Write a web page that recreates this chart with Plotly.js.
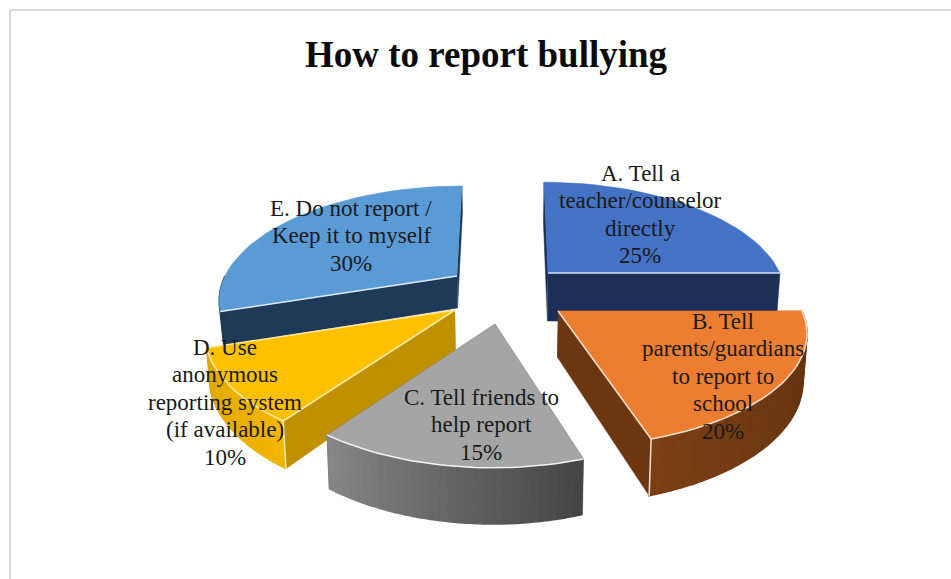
<!DOCTYPE html>
<html>
<head>
<meta charset="utf-8">
<script src="https://cdn.plot.ly/plotly-3.0.1.min.js"></script>
<style>html,body{margin:0;padding:0;background:#fff}#chart{width:951px;height:579px}</style>
</head>
<body>
<div id="chart"></div>
<script>
// Chart data
var titleText = "How to report bullying";
var categories = [
  "A. Tell a<br>teacher/counselor<br>directly",
  "B. Tell<br>parents/guardians<br>to report to<br>school",
  "C. Tell friends to<br>help report",
  "D. Use<br>anonymous<br>reporting system<br>(if available)",
  "E. Do not report /<br>Keep it to myself"
];
var values = [25, 20, 15, 10, 30];

// Colours
var topColors    = ["#4472C4", "#ED7D31", "#A5A5A5", "#FFC000", "#5B9BD5"];
var edgeColors   = ["#D6E0F2", "#FBE0CE", "#F2F2F2", "#FFE9A6", "#DCEBF7"];
var radialColors = ["#1B2F57", "#6B3610", "#6E6E6E", "#BF9000", "#1F3A58"];
var arcStart     = ["#1B2F57", "#5E2F0E", "#454545", "#F2B500", "#1F3A58"];
var arcEnd       = ["#1B2F57", "#7A3F14", "#868686", "#DDA800", "#1F3A58"];

// Projection of each exploded slice: centre, radii, skew, wall height
var cxs   = [548, 558, 495, 455, 457];
var cys   = [273, 311, 324, 310, 276];
var rxs   = [232, 244, 237, 245, 232];
var rys   = [109, 109, 115, 115, 108];
var skews = [-4, 0, 2, 0, 5];
var walls = [48, 46, 45, 40, 32];
var persp = 0.2, converge = 0.013, midX = 500;

// Which top-face edges catch the light
var lightFirst = [false, false, false, true, true];
var lightLast  = [true, true, false, true, false];
var lightArc   = [false, true, true, true, false];

// Label layout: centre of the first line, line step
var labelX = [640, 723, 481, 225, 351];
var labelY = [173, 321, 397, 347, 208];
var labelStep = 27.6;

var total = values.reduce(function (a, b) { return a + b; }, 0);

function project(i, ang) {
  var u = Math.sin(ang), v = Math.cos(ang), s = 1 / (1 + persp * v);
  return {x: cxs[i] + rxs[i] * u * s + skews[i] * v, y: cys[i] - rys[i] * v * s, s: s};
}
function drop(i, p, s) {
  return {x: p.x + converge * (midX - p.x), y: p.y + walls[i] * s};
}
function hex(c) { return [1, 3, 5].map(function (k) { return parseInt(c.substr(k, 2), 16); }); }
function mix(a, b, t) {
  var A = hex(a), B = hex(b);
  return "rgb(" + A.map(function (x, k) { return Math.round(x + (B[k] - x) * t); }).join(",") + ")";
}
function poly(pts, fill, lineWidth) {
  return {
    type: "scatter", mode: "lines", hoverinfo: "skip", showlegend: false, fill: "toself",
    x: pts.map(function (p) { return p.x; }), y: pts.map(function (p) { return p.y; }),
    fillcolor: fill, line: {color: fill, width: lineWidth}
  };
}
function stroke(pts, color, width) {
  return {
    type: "scatter", mode: "lines", hoverinfo: "skip", showlegend: false,
    x: pts.map(function (p) { return p.x; }), y: pts.map(function (p) { return p.y; }),
    line: {color: color, width: width}
  };
}

var starts = [], acc = 0;
values.forEach(function (val) { starts.push(acc); acc += val; });

function wedgeTraces(i) {
  var out = [];
  var a0 = starts[i] / total * 2 * Math.PI, a1 = (starts[i] + values[i]) / total * 2 * Math.PI;
  var apex = {x: cxs[i], y: cys[i], s: 1};
  var N = 30, arc = [];
  for (var k = 0; k <= N; k++) arc.push(project(i, a0 + (a1 - a0) * k / N));
  var first = arc[0], last = arc[N], apexB = drop(i, apex, 1);
  [first, last].forEach(function (p) {
    out.push(poly([apex, p, drop(i, p, p.s), apexB], radialColors[i], 0.5));
  });
  for (k = 0; k < N; k++) {
    // only the front half of the rim faces the viewer
    if (Math.cos(a0 + (a1 - a0) * (k + 0.5) / N) > 0) continue;
    var col = mix(arcStart[i], arcEnd[i], k / (N - 1));
    out.push(poly([arc[k], arc[k + 1], drop(i, arc[k + 1], arc[k + 1].s), drop(i, arc[k], arc[k].s)], col, 1.5));
  }
  if (i === 1 || i === 3) {
    var c = i === 1 ? last : first;
    out.push(stroke([c, drop(i, c, c.s)], edgeColors[i], 1.5));
  }
  out.push(poly([apex].concat(arc), topColors[i], 0.5));
  if (lightFirst[i]) out.push(stroke([apex, first], edgeColors[i], 1.5));
  if (lightLast[i])  out.push(stroke([apex, last], edgeColors[i], 1.5));
  if (lightArc[i])   out.push(stroke(arc, edgeColors[i], 1.5));
  return out;
}

var traces = [];
[0, 4, 3, 2, 1].forEach(function (i) { traces = traces.concat(wedgeTraces(i)); });

var annotations = [];
categories.forEach(function (cat, i) {
  cat.split("<br>").concat([values[i] + "%"]).forEach(function (line, n) {
    annotations.push({
      x: labelX[i], y: labelY[i] + n * labelStep, xref: "x", yref: "y", showarrow: false,
      text: line, align: "center", xanchor: "center", yanchor: "middle",
      font: {family: "Liberation Serif, serif", size: 23, color: "#1a1a1a"}
    });
  });
});

var layout = {
  width: 951, height: 579, margin: {l: 0, r: 0, t: 0, b: 0},
  paper_bgcolor: "#ffffff", plot_bgcolor: "#ffffff", showlegend: false,
  title: {text: titleText, x: 486 / 951, xanchor: "center", y: 1 - 54 / 579, yanchor: "middle",
    font: {family: "Liberation Serif, serif", size: 37, color: "#0a0a0a", weight: 700}},
  xaxis: {range: [0, 951], visible: false, fixedrange: true},
  yaxis: {range: [579, 0], visible: false, fixedrange: true},
  annotations: annotations,
  shapes: [
    {type: "line", xref: "paper", yref: "paper", x0: 10 / 951, x1: 10 / 951, y0: 0, y1: 1 - 10 / 579, line: {color: "#d9d9d9", width: 2}},
    {type: "line", xref: "paper", yref: "paper", x0: 10 / 951, x1: 1, y0: 1 - 10 / 579, y1: 1 - 10 / 579, line: {color: "#d9d9d9", width: 2}}
  ]
};
Plotly.newPlot("chart", traces, layout, {displayModeBar: false, staticPlot: true});
</script>
</body>
</html>
